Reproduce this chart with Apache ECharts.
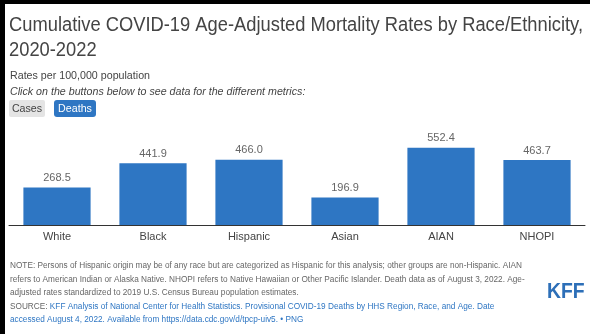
<!DOCTYPE html>
<html>
<head>
<meta charset="utf-8">
<script src="https://cdn.jsdelivr.net/npm/echarts@6/dist/echarts.min.js"></script>
<style>
  html, body { margin: 0; padding: 0; background: #fff; }
  #chart { width: 590px; height: 334px; }
</style>
</head>
<body>
<div id="chart"></div>
<script>
// Cumulative age-adjusted COVID-19 death rates per 100,000, by race/ethnicity
const categories = ['White', 'Black', 'Hispanic', 'Asian', 'AIAN', 'NHOPI'];
const deathRates = [268.5, 441.9, 466.0, 196.9, 552.4, 463.7];

const titleLines = ['Cumulative COVID-19 Age-Adjusted Mortality Rates by Race/Ethnicity,', '2020-2022'];
const subtitle = 'Rates per 100,000 population';
const instruction = 'Click on the buttons below to see data for the different metrics:';
const buttons = ['Cases', 'Deaths'];
const noteLines = [
  'NOTE: Persons of Hispanic origin may be of any race but are categorized as Hispanic for this analysis; other groups are non-Hispanic. AIAN',
  'refers to American Indian or Alaska Native. NHOPI refers to Native Hawaiian or Other Pacific Islander. Death data as of August 3, 2022. Age-',
  'adjusted rates standardized to 2019 U.S. Census Bureau population estimates.'
];
const sourceLines = [
  'KFF Analysis of National Center for Health Statistics. Provisional COVID-19 Deaths by HHS Region, Race, and Age. Date',
  'accessed August 4, 2022. Available from https://data.cdc.gov/d/tpcp-uiv5. \u2022 PNG'
];

const FONT = '"Liberation Sans", Arial, Helvetica, sans-serif';
const BLUE = '#2e76c3';

// The heading face is a touch narrower than Liberation Sans; squeeze it to the 574px heading width.
const measureCtx = document.createElement('canvas').getContext('2d');
measureCtx.font = '20px ' + FONT;
const titleScale = Math.min(1, 574 / measureCtx.measureText(titleLines[0]).width);
const bodyScale = 0.97;

const chart = echarts.init(document.getElementById('chart'), null, { renderer: 'canvas' });

function text(x, y, str, size, color, extra, sx) {
  return {
    type: 'text', x: x, y: y, scaleX: sx || 1, silent: true,
    style: Object.assign({
      text: str, fill: color, fontSize: size, fontFamily: FONT,
      verticalAlign: 'middle', align: 'left'
    }, extra || {})
  };
}

const graphics = [
  // frame edges
  { type: 'rect', shape: { x: 0, y: 0, width: 590, height: 4 }, style: { fill: '#000' }, silent: true },
  { type: 'rect', shape: { x: 0, y: 0, width: 5, height: 334 }, style: { fill: '#000' }, silent: true },
  // heading
  text(9, 25, titleLines[0], 20, '#444', null, titleScale),
  text(9, 50, titleLines[1], 20, '#444', null, titleScale),
  text(10, 76, subtitle, 11, '#444', null, bodyScale),
  text(10, 92, instruction, 11, '#444', { fontStyle: 'italic' }, bodyScale),
  // metric buttons
  { type: 'rect', shape: { x: 9, y: 100, width: 36, height: 17, r: 2 }, style: { fill: '#e4e4e4' }, silent: true },
  text(27, 108.5, buttons[0], 11, '#444', { align: 'center' }, bodyScale),
  { type: 'rect', shape: { x: 54, y: 100, width: 42, height: 17, r: 3 }, style: { fill: BLUE }, silent: true },
  text(75, 108.5, buttons[1], 11, '#fff', { align: 'center' }, bodyScale),
  // KFF mark
  { type: 'text', x: 547, y: 292, scaleX: 0.88, silent: true,
    style: { text: 'KFF', fill: '#2d6fb8', fontSize: 22, fontWeight: 'bold', fontFamily: FONT, verticalAlign: 'middle' } }
];

noteLines.forEach(function (line, i) {
  graphics.push(text(10, 266 + i * 13.5, line, 8.5, '#666', null, bodyScale));
});
graphics.push({
  type: 'text', x: 10, y: 266 + 3 * 13.5, scaleX: bodyScale, silent: true,
  style: {
    text: '{g|SOURCE: }{b|' + sourceLines[0] + '}', fontSize: 8.5, fontFamily: FONT, verticalAlign: 'middle',
    rich: { g: { fill: '#666', fontSize: 8.5, fontFamily: FONT }, b: { fill: BLUE, fontSize: 8.5, fontFamily: FONT } }
  }
});
graphics.push(text(10, 266 + 4 * 13.5, sourceLines[1], 8.5, BLUE, null, bodyScale));

chart.setOption({
  animation: false,
  backgroundColor: '#fff',
  grid: { left: 9, right: 5, top: 141, bottom: 109, containLabel: false },
  xAxis: {
    type: 'category',
    data: categories,
    axisLine: { lineStyle: { color: '#333', width: 1 } },
    axisTick: { show: false },
    axisLabel: { color: '#444', fontSize: 11, fontFamily: FONT, margin: 6 }
  },
  yAxis: {
    type: 'value', min: 0, max: 600, show: false,
    splitLine: { show: false }
  },
  series: [{
    type: 'bar',
    data: deathRates,
    barWidth: '70%',
    itemStyle: { color: BLUE },
    label: {
      show: true, position: 'top', distance: 4,
      color: '#666', fontSize: 11, fontFamily: FONT,
      formatter: function (p) { return p.value.toFixed(1); }
    }
  }],
  graphic: graphics
});
</script>
</body>
</html>
